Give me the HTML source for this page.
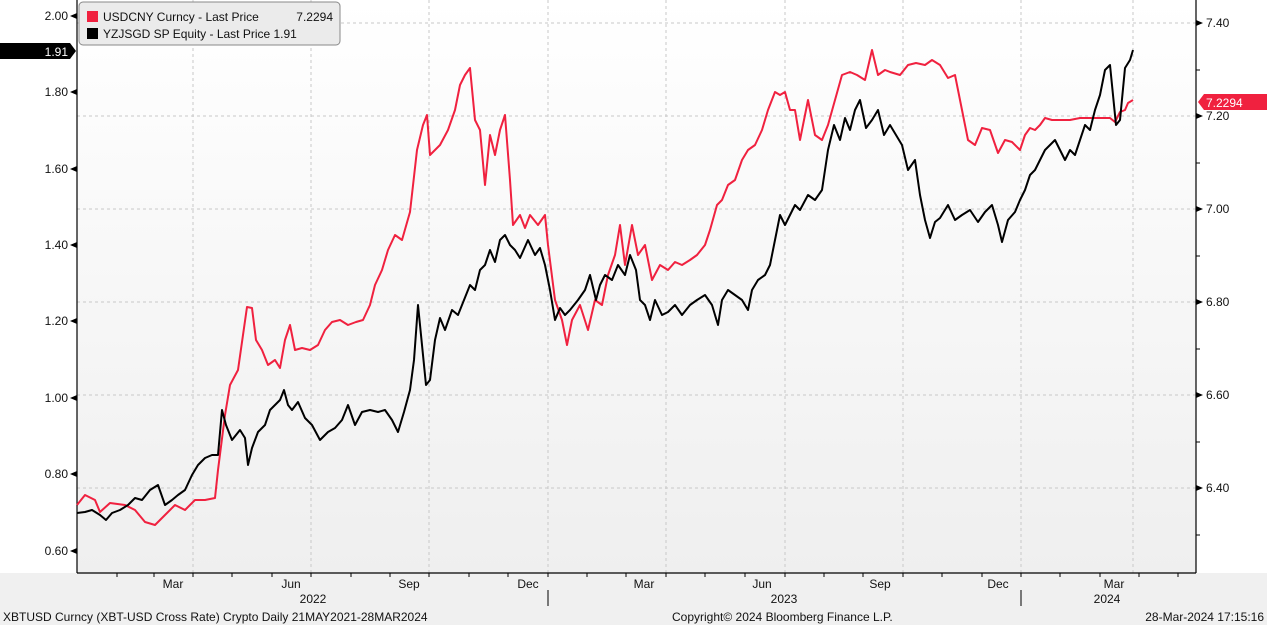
<!DOCTYPE html>
<html><head><meta charset="utf-8"><style>
body{margin:0;width:1267px;height:625px;overflow:hidden;background:#fff;font-family:"Liberation Sans",sans-serif}
svg text{font-family:"Liberation Sans",sans-serif;font-size:12px;fill:#111}
</style></head><body>
<svg width="1267" height="625" xmlns="http://www.w3.org/2000/svg">
<defs><linearGradient id="g" x1="0" y1="0" x2="0" y2="1"><stop offset="0" stop-color="#ffffff"/><stop offset="1" stop-color="#efefef"/></linearGradient></defs>
<rect x="0" y="0" width="1267" height="625" fill="#fff"/>
<rect x="77" y="0" width="1119" height="573" fill="url(#g)"/>
<rect x="0" y="573" width="1267" height="52" fill="#f0f0f0"/>
<g stroke="#c8c8c8" stroke-dasharray="3,3" stroke-width="1">
<line x1="77" x2="1196" y1="23" y2="23"/><line x1="77" x2="1196" y1="116" y2="116"/><line x1="77" x2="1196" y1="209" y2="209"/><line x1="77" x2="1196" y1="302" y2="302"/><line x1="77" x2="1196" y1="395" y2="395"/><line x1="77" x2="1196" y1="488" y2="488"/>
<line y1="0" y2="573" x1="193" x2="193"/><line y1="0" y2="573" x1="311" x2="311"/><line y1="0" y2="573" x1="429" x2="429"/><line y1="0" y2="573" x1="548" x2="548"/><line y1="0" y2="573" x1="666" x2="666"/><line y1="0" y2="573" x1="785" x2="785"/><line y1="0" y2="573" x1="903" x2="903"/><line y1="0" y2="573" x1="1021" x2="1021"/><line y1="0" y2="573" x1="1133" x2="1133"/>
</g>
<g stroke="#000" stroke-width="1.2">
<line x1="77" y1="0" x2="77" y2="573"/><line x1="1196" y1="0" x2="1196" y2="573"/><line x1="77" y1="573" x2="1196" y2="573"/>
</g>
<polyline fill="none" stroke="#f0213f" stroke-width="2" stroke-linejoin="round" points="77,505 85,495 95,500 100,512 110,503 125,505 135,510 145,522 155,525 165,515 175,505 185,510 195,500 205,500 215,498 218,470 225,415 230,385 238,370 243,335 247,307 252,308 256,340 262,350 268,365 275,360 280,368 285,340 290,325 295,350 302,348 310,350 318,345 325,330 332,322 340,320 348,325 356,322 363,320 370,305 375,285 382,270 388,250 395,235 402,240 410,212 417,150 423,125 427,115 430,155 440,145 448,130 455,110 460,85 465,75 470,68 475,120 480,130 485,185 490,135 495,155 500,130 505,115 510,180 513,225 520,215 525,228 530,215 538,225 545,215 548,245 555,300 562,320 567,345 572,320 580,305 588,330 595,300 602,305 608,275 615,255 620,225 625,265 632,225 638,255 645,245 652,280 660,265 668,270 675,262 682,265 690,260 697,255 705,245 710,230 717,205 722,200 728,185 735,180 742,160 748,150 755,145 762,130 768,110 775,92 780,95 785,92 790,110 795,110 800,140 808,100 815,135 822,140 828,125 835,100 842,75 850,72 857,75 865,80 872,50 878,75 885,70 890,72 900,75 908,65 916,63 925,65 932,60 940,65 948,78 955,75 962,110 968,140 975,145 982,128 990,130 998,153 1005,140 1012,142 1020,150 1025,135 1030,128 1035,130 1040,125 1045,118 1052,120 1060,120 1070,120 1080,118 1090,118 1100,118 1110,118 1115,122 1120,112 1125,110 1128,103 1133,100"/>
<polyline fill="none" stroke="#000" stroke-width="2" stroke-linejoin="round" points="77,513 85,512 92,510 100,515 106,520 112,513 120,510 128,505 135,498 142,500 150,490 158,485 165,505 172,500 178,495 185,490 192,475 198,465 205,458 212,455 218,455 222,410 226,425 232,440 240,430 245,438 248,465 252,448 258,432 265,425 270,410 275,405 280,400 284,390 288,405 292,410 298,402 305,418 312,425 320,440 328,432 335,428 342,420 348,405 355,425 362,412 370,410 378,412 385,410 392,420 398,432 404,412 410,390 414,360 418,305 422,345 426,385 430,380 435,340 440,318 445,330 452,310 458,315 464,300 470,285 475,290 480,270 485,265 490,250 495,262 500,240 505,235 510,245 515,250 520,258 528,240 535,255 540,248 545,265 550,290 555,320 560,308 565,315 570,310 578,300 585,290 590,275 596,300 600,285 605,275 612,280 618,265 625,275 630,255 636,270 640,300 645,305 650,320 655,300 662,315 668,312 675,305 682,315 690,305 697,300 705,295 712,305 718,325 722,300 728,290 735,295 742,300 748,310 752,290 758,280 765,275 770,265 775,240 780,215 785,225 790,215 795,205 800,210 808,195 815,200 822,190 828,150 834,125 840,140 845,118 850,130 855,110 860,100 866,128 872,120 878,110 884,135 890,125 896,135 902,145 908,170 915,160 920,195 925,220 930,238 935,222 940,218 948,205 955,220 962,215 970,210 978,222 985,212 992,205 998,225 1002,242 1008,220 1015,212 1020,200 1025,190 1030,175 1035,170 1040,160 1045,150 1050,145 1055,140 1060,150 1065,160 1070,150 1075,155 1080,140 1085,125 1090,130 1095,110 1100,95 1105,70 1110,65 1113,95 1116,125 1120,120 1125,68 1130,60 1133,50"/>
<!-- left axis -->
<g text-anchor="end">
<text x="68" y="20">2.00</text><text x="68" y="96">1.80</text><text x="68" y="173">1.60</text><text x="68" y="249">1.40</text><text x="68" y="325">1.20</text><text x="68" y="402">1.00</text><text x="68" y="478">0.80</text><text x="68" y="555">0.60</text>
</g>
<g fill="#000"><polygon points="70,16 77,13 77,19"/><polygon points="70,92 77,89 77,95"/><polygon points="70,169 77,166 77,172"/><polygon points="70,245 77,242 77,248"/><polygon points="70,321 77,318 77,324"/><polygon points="70,398 77,395 77,401"/><polygon points="70,474 77,471 77,477"/><polygon points="70,551 77,548 77,554"/></g>
<polygon points="0,43 70,43 76,51 70,59 0,59" fill="#000"/>
<text x="68" y="56" text-anchor="end" style="fill:#fff">1.91</text>
<!-- right axis -->
<g><polygon points="1196,20 1203,23 1196,26"/><polygon points="1196,113 1203,116 1196,119"/><polygon points="1196,206 1203,209 1196,212"/><polygon points="1196,299 1203,302 1196,305"/><polygon points="1196,392 1203,395 1196,398"/><polygon points="1196,485 1203,488 1196,491"/></g>
<g stroke="#000"><line x1="1196" x2="1200" y1="70" y2="70"/><line x1="1196" x2="1200" y1="163" y2="163"/><line x1="1196" x2="1200" y1="256" y2="256"/><line x1="1196" x2="1200" y1="349" y2="349"/><line x1="1196" x2="1200" y1="442" y2="442"/><line x1="1196" x2="1200" y1="535" y2="535"/></g>
<text x="1206" y="27">7.40</text><text x="1206" y="120">7.20</text><text x="1206" y="213">7.00</text><text x="1206" y="306">6.80</text><text x="1206" y="399">6.60</text><text x="1206" y="492">6.40</text>
<polygon points="1198,102 1204,94 1267,94 1267,110 1204,110" fill="#f0213f"/>
<text x="1206" y="107" style="fill:#fff">7.2294</text>
<!-- legend -->
<rect x="79" y="2" width="261" height="43" rx="4" fill="#ebebeb" stroke="#888"/>
<rect x="87" y="11" width="11" height="11" fill="#f0213f"/>
<rect x="87" y="28" width="11" height="11" fill="#000"/>
<text x="103" y="21">USDCNY Curncy - Last Price</text><text x="333" y="21" text-anchor="end">7.2294</text>
<text x="103" y="38">YZJSGD SP Equity - Last Price 1.91</text>
<!-- x axis -->
<g stroke="#000"><line x1="117" x2="117" y1="573" y2="577"/><line x1="154" x2="154" y1="573" y2="577"/><line x1="193" x2="193" y1="573" y2="577"/><line x1="232" x2="232" y1="573" y2="577"/><line x1="272" x2="272" y1="573" y2="577"/><line x1="311" x2="311" y1="573" y2="577"/><line x1="351" x2="351" y1="573" y2="577"/><line x1="390" x2="390" y1="573" y2="577"/><line x1="429" x2="429" y1="573" y2="577"/><line x1="469" x2="469" y1="573" y2="577"/><line x1="508" x2="508" y1="573" y2="577"/><line x1="548" x2="548" y1="573" y2="577"/><line x1="587" x2="587" y1="573" y2="577"/><line x1="626" x2="626" y1="573" y2="577"/><line x1="666" x2="666" y1="573" y2="577"/><line x1="705" x2="705" y1="573" y2="577"/><line x1="745" x2="745" y1="573" y2="577"/><line x1="785" x2="785" y1="573" y2="577"/><line x1="824" x2="824" y1="573" y2="577"/><line x1="863" x2="863" y1="573" y2="577"/><line x1="903" x2="903" y1="573" y2="577"/><line x1="942" x2="942" y1="573" y2="577"/><line x1="982" x2="982" y1="573" y2="577"/><line x1="1021" x2="1021" y1="573" y2="577"/><line x1="1060" x2="1060" y1="573" y2="577"/><line x1="1100" x2="1100" y1="573" y2="577"/><line x1="1139" x2="1139" y1="573" y2="577"/><line x1="1178" x2="1178" y1="573" y2="577"/>
<line x1="548" x2="548" y1="590" y2="606"/><line x1="1021" x2="1021" y1="590" y2="606"/></g>
<g text-anchor="middle"><text x="173" y="588">Mar</text><text x="291" y="588">Jun</text><text x="409" y="588">Sep</text><text x="528" y="588">Dec</text><text x="644" y="588">Mar</text><text x="762" y="588">Jun</text><text x="880" y="588">Sep</text><text x="998" y="588">Dec</text><text x="1114" y="588">Mar</text>
<text x="313" y="603">2022</text><text x="784" y="603">2023</text><text x="1107" y="603">2024</text></g>
<text x="3" y="621">XBTUSD Curncy (XBT-USD Cross Rate) Crypto  Daily 21MAY2021-28MAR2024</text>
<text x="672" y="621">Copyright© 2024 Bloomberg Finance L.P.</text>
<text x="1264" y="621" text-anchor="end">28-Mar-2024 17:15:16</text>
</svg>
</body></html>
